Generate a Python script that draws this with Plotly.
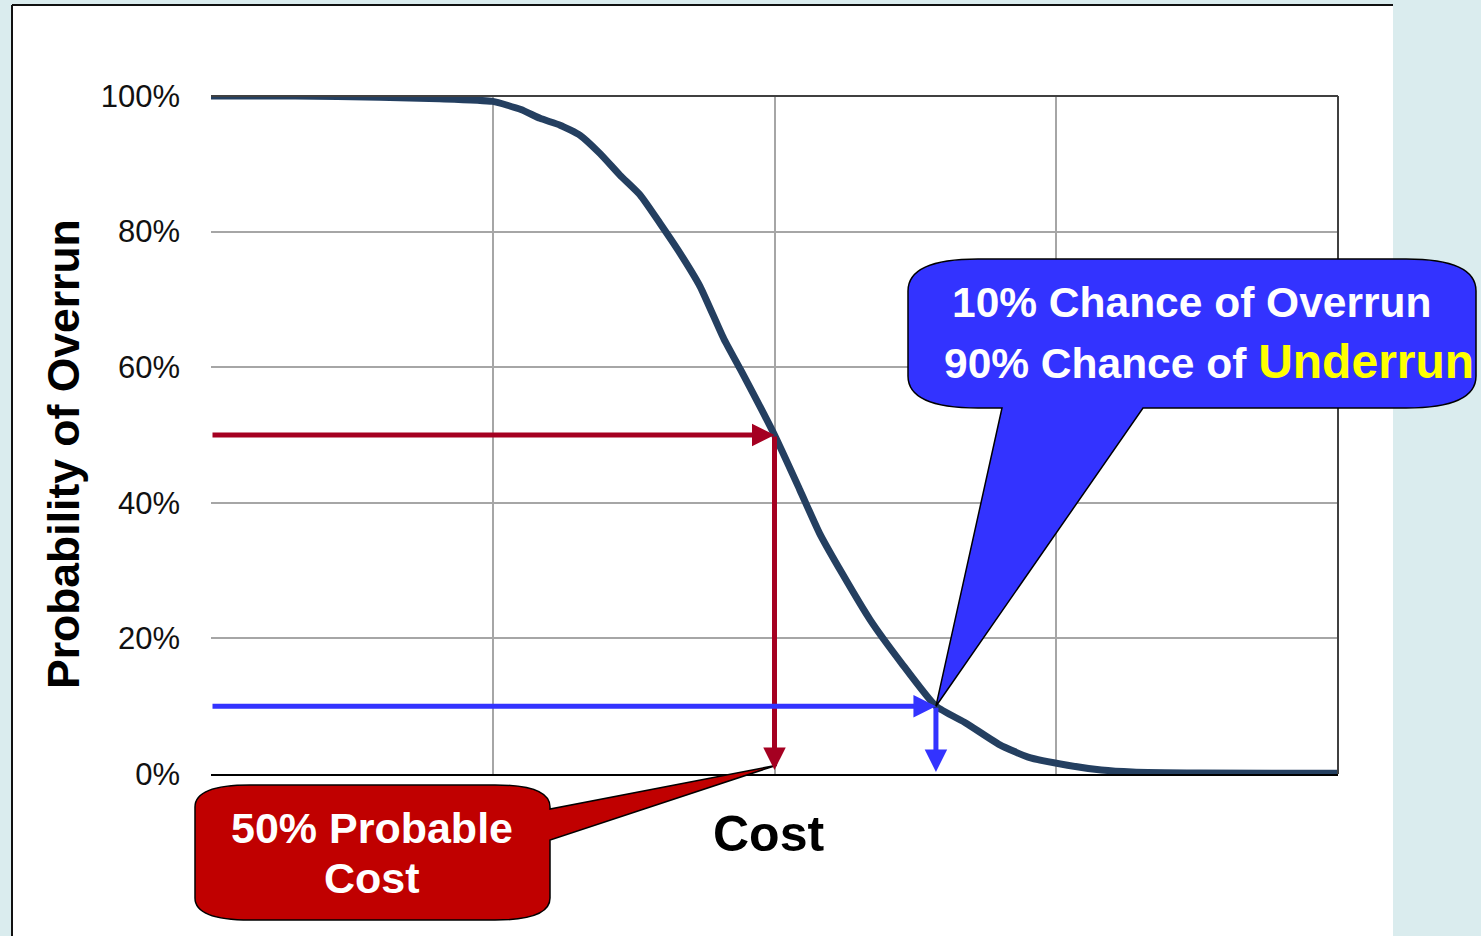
import plotly.graph_objects as go

# S-curve: probability of overrun vs. cost (cost in grid units, 0-4)
cost = [0.0, 0.30, 0.60, 0.81, 1.00, 1.10, 1.168, 1.239, 1.310, 1.381, 1.452,
        1.523, 1.594, 1.665, 1.736, 1.82, 1.88, 2.00, 2.09, 2.16, 2.24, 2.34,
        2.45, 2.573, 2.68, 2.80, 2.90, 3.04, 3.16, 3.27, 3.51, 4.00]
prob_overrun = [100, 100, 99.8, 99.6, 99.2, 98.0, 96.7, 95.7, 94.2, 91.5, 88.3,
                85.4, 81.2, 76.8, 71.9, 64.2, 59.6, 50.0, 41.9, 35.5, 29.6, 22.7,
                16.4, 10.0, 7.5, 4.3, 2.5, 1.3, 0.6, 0.3, 0.15, 0.1]

# Reference points: 50% probable cost and the 10% overrun cost
p50_cost, p50_prob = 2.0, 50
p90_cost, p90_prob = 2.573, 10

y_ticks = [0, 20, 40, 60, 80, 100]
y_tick_text = ["0%", "20%", "40%", "60%", "80%", "100%"]

W, H = 1481, 936
PL, PR, PT, PB = 211, 1338, 96, 774  # plot area in pixels
X_MAX, Y_MAX = 4.0, 100.0

RED = "#A50021"
BLUE = "#3333FF"
CURVE = "#243F60"
FONT = "Liberation Sans, Arial, sans-serif"


def fx(px):
    return (px - PL) / (PR - PL)


def fy(py):
    return (PB - py) / (PB - PT)


def dx(v):
    return v / X_MAX


def dy(v):
    return v / Y_MAX


fig = go.Figure()
fig.add_trace(go.Scatter(
    x=cost, y=prob_overrun, mode="lines",
    line=dict(color=CURVE, width=7, shape="spline", smoothing=0.5),
    hoverinfo="skip", showlegend=False,
))

shapes = []
# white slide panel with its left/top edge lines
shapes.append(dict(type="rect", xref="paper", yref="paper", layer="below",
                   x0=fx(12), x1=fx(1393), y0=fy(945), y1=fy(5),
                   fillcolor="white", line=dict(width=0)))
shapes.append(dict(type="line", xref="paper", yref="paper", layer="below",
                   x0=fx(12), x1=fx(1393), y0=fy(5), y1=fy(5),
                   line=dict(color="#111111", width=2)))
shapes.append(dict(type="line", xref="paper", yref="paper", layer="below",
                   x0=fx(12), x1=fx(12), y0=fy(5), y1=fy(945),
                   line=dict(color="#111111", width=2)))
# plot frame (top, right)
shapes.append(dict(type="line", xref="paper", yref="paper", layer="above",
                   x0=0, x1=1, y0=1, y1=1, line=dict(color="#404040", width=2)))
shapes.append(dict(type="line", xref="paper", yref="paper", layer="above",
                   x0=1, x1=1, y0=0, y1=1, line=dict(color="#404040", width=2)))


def P(px, py):
    return f"{fx(px):.5f},{fy(py):.5f}"


# blue callout: rounded box with wedge pointing at the 10% point
bL, bR, bT, bB, brx, bry = 908, 1476, 259, 408, 70, 32
tipx, tipy = dx(p90_cost), dy(p90_prob)
blue_path = (
    f"M{P(bL + brx, bT)} L{P(bR - brx, bT)} Q{P(bR, bT)} {P(bR, bT + bry)} "
    f"L{P(bR, bB - bry)} Q{P(bR, bB)} {P(bR - brx, bB)} L{P(1143, bB)} "
    f"L{tipx:.5f},{tipy:.5f} L{P(1002, bB)} L{P(bL + brx, bB)} "
    f"Q{P(bL, bB)} {P(bL, bB - bry)} L{P(bL, bT + bry)} Q{P(bL, bT)} {P(bL + brx, bT)} Z"
)
shapes.append(dict(type="path", xref="paper", yref="paper", layer="above",
                   path=blue_path, fillcolor=BLUE, line=dict(color="black", width=1.5)))

# red callout: rounded box with wedge pointing at the 50% cost on the axis
rL, rR, rT, rB, rrx, rry = 195, 550, 785, 920, 55, 22
rtx, rty = dx(p50_cost) + 0.002, dy(1.3)
red_path = (
    f"M{P(rL + rrx, rT)} L{P(rR - rrx, rT)} Q{P(rR, rT)} {P(rR, rT + rry)} "
    f"L{P(rR, 809)} L{rtx:.5f},{rty:.5f} L{P(rR, 840)} L{P(rR, rB - rry)} "
    f"Q{P(rR, rB)} {P(rR - rrx, rB)} L{P(rL + rrx, rB)} Q{P(rL, rB)} {P(rL, rB - rry)} "
    f"L{P(rL, rT + rry)} Q{P(rL, rT)} {P(rL + rrx, rT)} Z"
)
shapes.append(dict(type="path", xref="paper", yref="paper", layer="above",
                   path=red_path, fillcolor="#C00000", line=dict(color="black", width=1.5)))

annotations = []


def arrow(x, y, ax, ay, color):
    annotations.append(dict(
        x=x, y=y, ax=ax, ay=ay, xref="x", yref="y", axref="x", ayref="y",
        text="", showarrow=True, arrowhead=2, arrowsize=0.9, arrowwidth=5,
        arrowcolor=color,
    ))


arrow(p50_cost, p50_prob, 0, p50_prob, RED)
arrow(p50_cost, 0.6, p50_cost, p50_prob, RED)
arrow(p90_cost, p90_prob, 0, p90_prob, BLUE)
arrow(p90_cost, 0.3, p90_cost, p90_prob, BLUE)


def label(px, py, text, size, color="white", angle=0):
    annotations.append(dict(
        x=fx(px), y=fy(py), xref="paper", yref="paper", text=text,
        showarrow=False, xanchor="center", yanchor="middle", textangle=angle,
        font=dict(family=FONT, size=size, color=color),
    ))


label(1191, 302, "<b>10% Chance of Overrun</b>", 42.5)
label(1209, 361, "<b>90% Chance of <span style='color:#FFFF00;font-size:48px'>Underrun</span></b>", 42.5)
label(372, 828, "<b>50% Probable</b>", 43)
label(372, 878, "<b>Cost</b>", 43)
label(768, 834, "<b>Cost</b>", 50, color="black")
label(63, 454, "<b>Probability of Overrun</b>", 44.5, color="black", angle=-90)

fig.update_layout(
    width=W, height=H,
    margin=dict(l=PL, r=W - PR, t=PT, b=H - PB, pad=0),
    paper_bgcolor="#DAECEE",
    plot_bgcolor="#DBE5F1",
    shapes=shapes,
    annotations=annotations,
    showlegend=False,
    font=dict(family=FONT, color="black"),
    xaxis=dict(range=[0, X_MAX], dtick=1, showticklabels=False, showgrid=True,
               gridcolor="#A6A6A6", gridwidth=2, zeroline=False,
               showline=True, linecolor="black", linewidth=2, fixedrange=True),
    yaxis=dict(range=[0, Y_MAX], tickvals=y_ticks, ticktext=y_tick_text,
               showgrid=True, gridcolor="#A6A6A6", gridwidth=2, zeroline=False,
               showline=False, ticks="", ticklabelstandoff=30,
               tickfont=dict(family=FONT, size=31, color="#111111"), fixedrange=True),
)

fig.write_html("out.html", config={"displayModeBar": False})
